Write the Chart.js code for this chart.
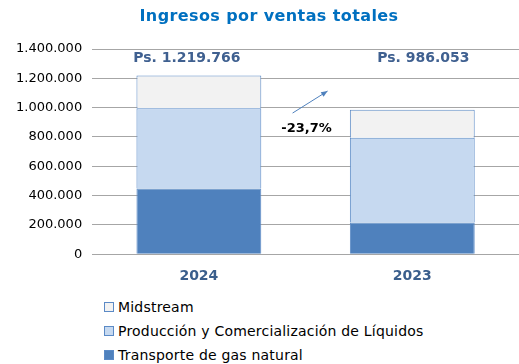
<!DOCTYPE html>
<html>
<head>
<meta charset="utf-8">
<script src="https://cdn.jsdelivr.net/npm/chart.js@4.4.1/dist/chart.umd.min.js"></script>
<style>
  body { margin: 0; background: #fff; font-family: "DejaVu Sans", Verdana, sans-serif; }
  #wrap { position: relative; width: 519px; height: 364px; overflow: hidden; }
  #chartBox { position: absolute; left: 0; top: 0; width: 519px; height: 291px; }
  #legend { position: absolute; left: 104px; top: 298px; font-size: 14px; letter-spacing: 0.2px; color: #000; }
  .item { height: 24px; line-height: 18px; white-space: nowrap; }
  .box { display: inline-block; width: 8px; height: 8px; border: 1px solid #5B8AC6; margin-right: 4px; vertical-align: 0px; }
</style>
</head>
<body>
<div id="wrap">
  <div id="chartBox"><canvas id="salesChart"></canvas></div>
  <div id="legend"></div>
</div>
<script>
// Ingresos por segmento (miles de Ps.)
const years = ["2024", "2023"];
const transporte = [448000, 216000];
const produccion = [547000, 578000];
const midstream = [224766, 192053];
const yTicks = [0, 200000, 400000, 600000, 800000, 1000000, 1200000, 1400000];
const titulo = "Ingresos por ventas totales";
const variacion = "-23,7%";

const fmt = (v) => v.toString().replace(/\B(?=(\d{3})+(?!\d))/g, ".");
const totals = years.map((_, i) => transporte[i] + produccion[i] + midstream[i]);
const totalOffsets = [-12, 11];

// title, totals above each bar, change label and arrow between the bars
const annotations = {
  id: "annotations",
  afterDatasetsDraw(chart) {
    const { ctx, chartArea, scales } = chart;
    ctx.save();
    ctx.textAlign = "center";
    ctx.textBaseline = "middle";

    ctx.font = "bold 16px 'DejaVu Sans'";
    ctx.fillStyle = "#0070C0";
    ctx.letterSpacing = "0.4px";
    ctx.fillText(titulo, 269, 17);
    ctx.letterSpacing = "0px";

    ctx.font = "bold 14px 'DejaVu Sans'";
    ctx.fillStyle = "#3F6090";
    totals.forEach((t, i) => {
      ctx.fillText("Ps. " + fmt(t), scales.x.getPixelForValue(i) + totalOffsets[i], chartArea.top + 9);
    });

    const mid = (scales.x.getPixelForValue(0) + scales.x.getPixelForValue(1)) / 2;
    ctx.fillStyle = "#000";
    ctx.font = "bold 13px 'DejaVu Sans'";
    ctx.fillText(variacion, mid + 1, scales.y.getPixelForValue(860000));

    // arrow
    const x1 = mid - 13, y1 = scales.y.getPixelForValue(963000);
    const x2 = mid + 22, y2 = scales.y.getPixelForValue(1113000);
    ctx.strokeStyle = "#4F81BD";
    ctx.fillStyle = "#4F81BD";
    ctx.lineWidth = 1;
    ctx.beginPath();
    ctx.moveTo(x1, y1);
    ctx.lineTo(x2, y2);
    ctx.stroke();
    const a = Math.atan2(y2 - y1, x2 - x1);
    ctx.beginPath();
    ctx.moveTo(x2, y2);
    ctx.lineTo(x2 - 7 * Math.cos(a - 0.4), y2 - 7 * Math.sin(a - 0.4));
    ctx.lineTo(x2 - 7 * Math.cos(a + 0.4), y2 - 7 * Math.sin(a + 0.4));
    ctx.closePath();
    ctx.fill();
    ctx.restore();
  }
};

const chart = new Chart(document.getElementById("salesChart"), {
  type: "bar",
  data: {
    labels: years,
    datasets: [
      { label: "Transporte de gas natural", data: transporte, backgroundColor: "#4F81BD", borderColor: "#5B8AC6", borderWidth: 1 },
      { label: "Producción y Comercialización de Líquidos", data: produccion, backgroundColor: "#C6D9F0", borderColor: "#5B8AC6", borderWidth: 1 },
      { label: "Midstream", data: midstream, backgroundColor: "#F2F2F2", borderColor: "#5B8AC6", borderWidth: 1 },
    ],
  },
  options: {
    responsive: true,
    maintainAspectRatio: false,
    animation: false,
    layout: { padding: { left: 6, right: 0, top: 49, bottom: 0 } },
    datasets: { bar: { categoryPercentage: 1, barPercentage: 0.585 } },
    plugins: {
      legend: { display: false },
      tooltip: { enabled: false },
      title: { display: false },
    },
    scales: {
      x: {
        stacked: true,
        grid: { display: false },
        border: { display: false },
        ticks: { color: "#3A5E8C", font: { family: "'DejaVu Sans'", size: 14, weight: "bold" }, padding: 6 },
      },
      y: {
        stacked: true,
        min: 0,
        max: 1400000,
        afterBuildTicks: (axis) => { axis.ticks = yTicks.map((v) => ({ value: v })); },
        grid: { color: "#A6A6A6", lineWidth: 1, drawTicks: false },
        border: { display: false },
        ticks: { color: "#000", font: { family: "'DejaVu Sans'", size: 13 }, padding: 10, callback: (v) => fmt(v) },
      },
    },
  },
  plugins: [annotations],
});

// legend, listed top segment first
const legendEl = document.getElementById("legend");
chart.data.datasets.slice().reverse().forEach((ds) => {
  const row = document.createElement("div");
  row.className = "item";
  row.innerHTML = '<span class="box" style="background:' + ds.backgroundColor + '"></span>' + ds.label;
  legendEl.appendChild(row);
});
</script>
</body>
</html>
